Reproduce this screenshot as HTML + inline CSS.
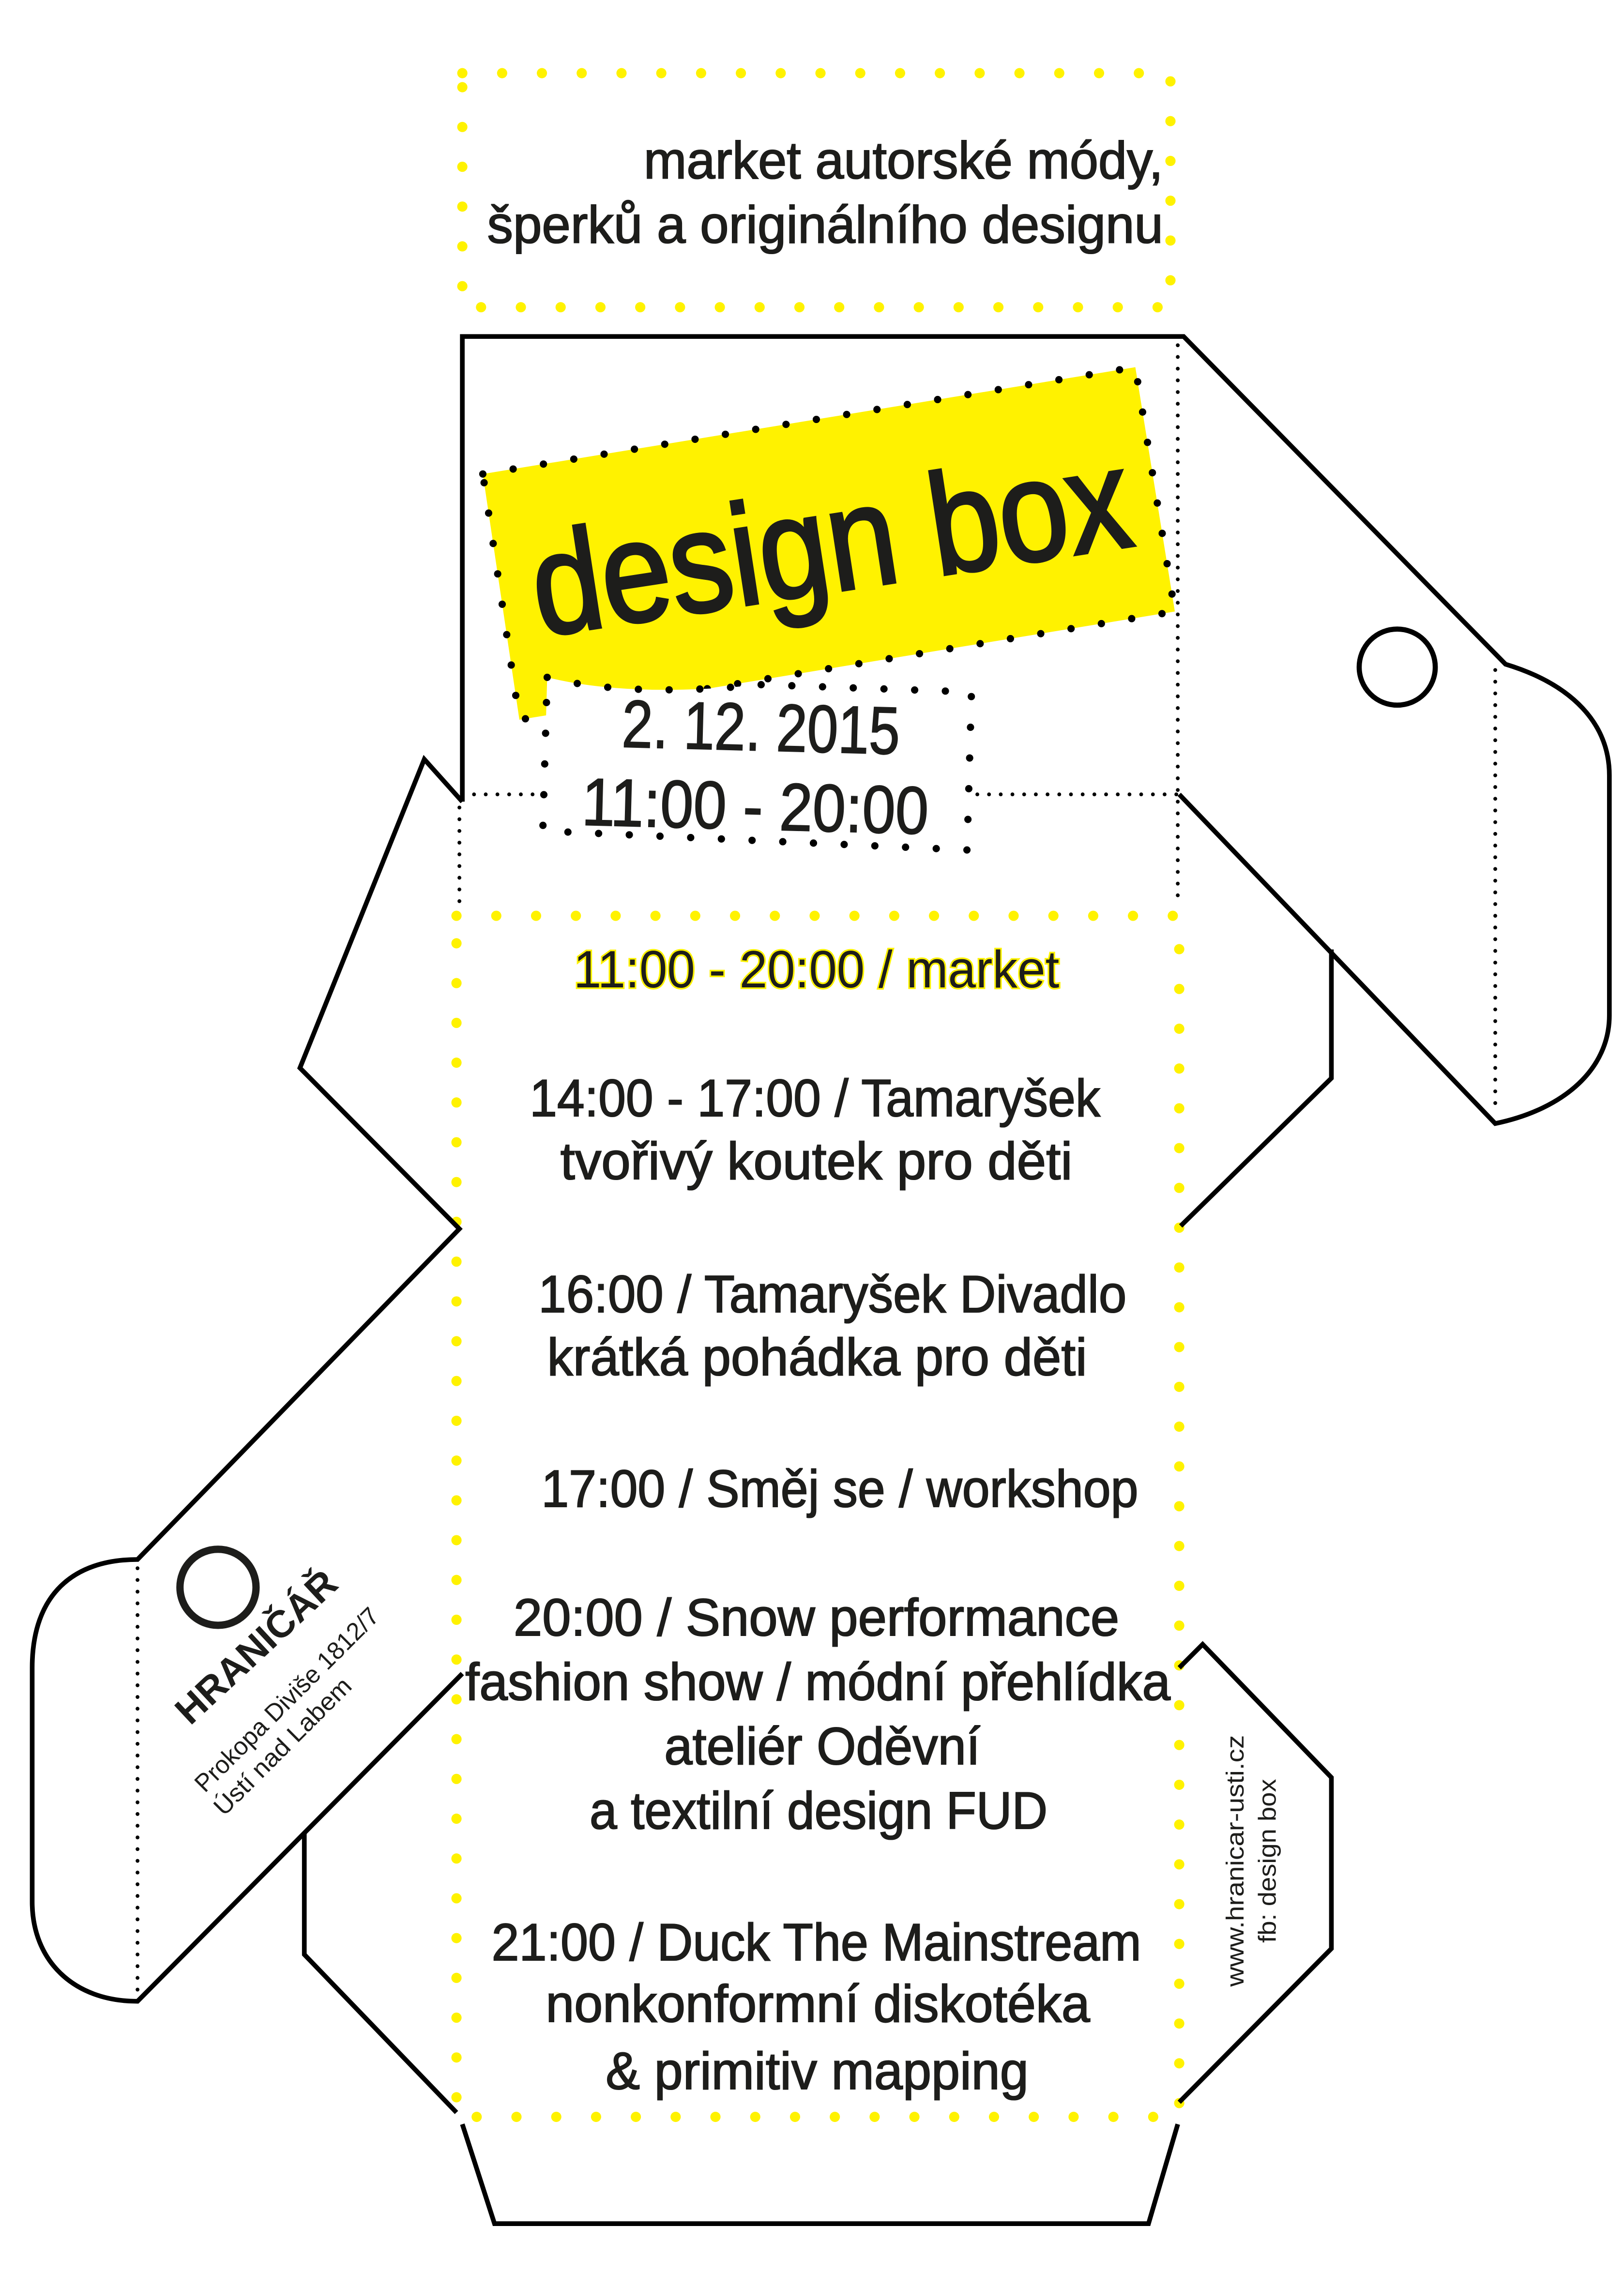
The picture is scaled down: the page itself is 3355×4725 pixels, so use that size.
<!DOCTYPE html>
<html><head><meta charset="utf-8"><style>
html,body{margin:0;padding:0;background:#fff;}
svg{display:block;}
text{font-family:"Liberation Sans Narrow","Liberation Sans","DejaVu Sans Condensed",sans-serif;fill:#1d1d1b;}
.b{stroke:#1d1d1b;stroke-width:0.7;}
</style></head><body>
<svg width="3355" height="4725" viewBox="0 0 1110 1563.3" preserveAspectRatio="none" xmlns="http://www.w3.org/2000/svg">
<rect width="1110" height="1564" fill="#fff"/>
<g fill="none" stroke="#fff200" stroke-width="7" stroke-linecap="round" stroke-dasharray="0 27.2">
<path d="M316 50 H800 V210 H316 Z"/>
<path d="M312 626 H806 V1447 H312 Z"/>
</g>
<g fill="none" stroke="#000" stroke-width="3.2" stroke-linejoin="miter">
<path d="M316 548 V230 H809 L1029 454 C1075 468 1100 495 1100 530 V694 C1100 730 1070 758 1022 768 L806 543"/>
<path d="M910 649 V737 L807 838"/>
<path d="M316 548 L290 519 L205 730 L314 840 L94 1066 C50 1066 22 1090 22 1140 V1300 C22 1340 50 1368 94 1368 L316 1144"/>
<path d="M208 1253 V1336 L312 1444"/>
<path d="M316 1452 L338 1520 H785 L805 1452"/>
<path d="M806 1437 L910 1332 V1215 L822 1124 L806 1140"/>
</g>
<g fill="none" stroke="#000" stroke-width="2.6" stroke-linecap="round" stroke-dasharray="0 8">
<path d="M805 236 V620"/>
<path d="M1022 458 V762"/>
<path d="M316 543 H370"/>
<path d="M668 543 H805"/>
<path d="M314 552 V620"/>
<path d="M94 1072 V1362"/>
</g>
<polygon points="330,324 776,251 803,418 355,492" fill="#fff200"/>
<polygon points="330,324 776,251 803,418 355,492" fill="none" stroke="#000" stroke-width="5" stroke-linecap="round" stroke-dasharray="0 21"/>
<path d="M374 463 Q430 477 520 468 L664 473 L661 581 L371 568 Z" fill="#fff"/>
<path d="M374 463 Q430 477 520 468 L664 473 L661 581 L371 568 Z" fill="none" stroke="#000" stroke-width="5" stroke-linecap="round" stroke-dasharray="0 21"/>
<text x="369" y="435" font-size="98" textLength="412" lengthAdjust="spacingAndGlyphs" transform="rotate(-8.7 369 435)" stroke="#1d1d1b" stroke-width="2.2">design box</text>
<g transform="rotate(1.5 518 540)" class="b">
<text x="424" y="513" font-size="46" textLength="190" lengthAdjust="spacingAndGlyphs">2. 12. 2015</text>
<text x="398" y="567" font-size="46" textLength="237" lengthAdjust="spacingAndGlyphs">11:00 - 20:00</text>
</g>
<g font-size="36" class="b">
<text x="440" y="122" textLength="355" lengthAdjust="spacingAndGlyphs">market autorské módy,</text>
<text x="333" y="166" textLength="462" lengthAdjust="spacingAndGlyphs">šperků a originálního designu</text>
</g>
<text x="392" y="675" font-size="36" textLength="332" lengthAdjust="spacingAndGlyphs" stroke="#fff200" stroke-width="2.2" paint-order="stroke">11:00 - 20:00 / market</text>
<g font-size="36" class="b">
<text x="362" y="763" textLength="390" lengthAdjust="spacingAndGlyphs">14:00 - 17:00 / Tamaryšek</text>
<text x="383" y="806" textLength="350" lengthAdjust="spacingAndGlyphs">tvořivý koutek pro děti</text>
<text x="368" y="897" textLength="402" lengthAdjust="spacingAndGlyphs">16:00 / Tamaryšek Divadlo</text>
<text x="374" y="940" textLength="369" lengthAdjust="spacingAndGlyphs">krátká pohádka pro děti</text>
<text x="370" y="1030" textLength="408" lengthAdjust="spacingAndGlyphs">17:00 / Směj se / workshop</text>
<text x="351" y="1118" textLength="414" lengthAdjust="spacingAndGlyphs">20:00 / Snow performance</text>
<text x="318" y="1162" textLength="482" lengthAdjust="spacingAndGlyphs">fashion show / módní přehlídka</text>
<text x="454" y="1206" textLength="216" lengthAdjust="spacingAndGlyphs">ateliér Oděvní</text>
<text x="403" y="1250" textLength="313" lengthAdjust="spacingAndGlyphs">a textilní design FUD</text>
<text x="336" y="1340" textLength="444" lengthAdjust="spacingAndGlyphs">21:00 / Duck The Mainstream</text>
<text x="373" y="1382" textLength="372" lengthAdjust="spacingAndGlyphs">nonkonformní diskotéka</text>
<text x="414" y="1428" textLength="289" lengthAdjust="spacingAndGlyphs">&amp; primitiv mapping</text>
</g>
<circle cx="955" cy="456" r="26" fill="none" stroke="#000" stroke-width="3.5"/>
<circle cx="149" cy="1085" r="26" fill="none" stroke="#1d1d1b" stroke-width="5"/>
<text x="130" y="1180" font-size="26" font-weight="bold" textLength="140" lengthAdjust="spacingAndGlyphs" transform="rotate(-43 130 1180)">HRANIČÁŘ</text>
<text x="140" y="1226" font-size="17" textLength="170" lengthAdjust="spacingAndGlyphs" transform="rotate(-45 140 1226)">Prokopa Diviše 1812/7</text>
<text x="153" y="1242" font-size="17" textLength="125" lengthAdjust="spacingAndGlyphs" transform="rotate(-45 153 1242)">Ústí nad Labem</text>
<text x="850" y="1358" font-size="17" textLength="172" lengthAdjust="spacingAndGlyphs" transform="rotate(-90 850 1358)">www.hranicar-usti.cz</text>
<text x="872" y="1328" font-size="17" textLength="112" lengthAdjust="spacingAndGlyphs" transform="rotate(-90 872 1328)">fb: design box</text>
</svg>
</body></html>
